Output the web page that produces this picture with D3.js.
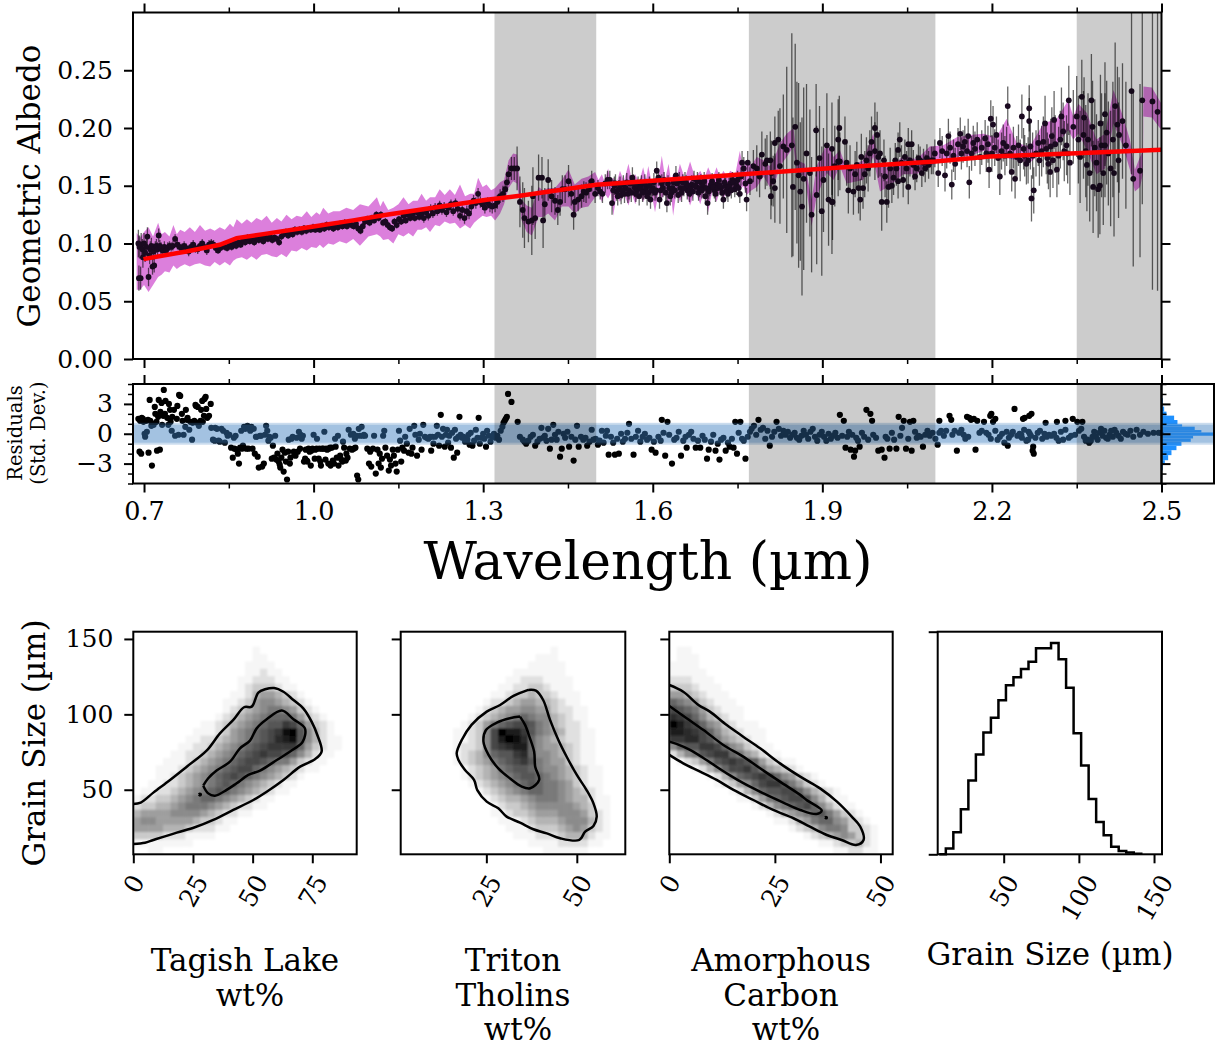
<!DOCTYPE html>
<html>
<head>
<meta charset="utf-8">
<style>
  body { margin: 0; background: #fff; }
  text { font-family: "DejaVu Serif", serif; fill: #000; }
  .tick line { stroke: #000; }
  .domain { display: none; }
</style>
</head>
<body>
<script src="https://d3js.org/d3.v7.min.js"></script>
<script>
// spectrum points: [wavelength nm, albedo x1000, error x1000]
const specVisible = [[690,100,12],[691,70,11],[692,97,10],[694,70,10],[695,99,10],[697,95,9],[698,88,9],[700,100,9],[702,92,8],[704,97,8],[706,106,8],[708,71,8],[710,90,8],[711,95,7],[713,98,7],[715,80,7],[717,93,7],[718,81,6],[720,96,6],[722,98,6],[724,95,6],[726,107,6],[728,98,5],[730,96,5],[733,94,5],[736,97,5],[739,94,5],[742,96,5],[745,98,4],[748,97,4],[751,98,4],[755,104,4],[759,99,4],[763,97,4],[767,96,4],[771,98,4],[775,96,4],[779,93,4],[783,97,4],[787,99,4],[791,96,4],[795,95,4],[799,98,4],[803,100,4],[807,97,4],[811,94,4],[815,99,4],[819,100,4],[823,99,4],[827,96,4],[831,94,3],
[835,96,3],[839,98,3],[843,97,3],[847,96,3],[851,99,3],[855,97,3],[859,100,3],[863,98,3],[867,101,3],[871,99,3],[875,103,3],[879,101,3],[883,105,3],[887,102,3],[891,104,3],[895,101,3],[899,105,3],[903,103,3],[907,106,3],[911,102,3],[915,105,3],[919,104,3],[923,106,3],[927,103,3],[931,105,3],[935,104,3],[939,101,3],[943,106,3],[947,108,3],[951,110,3],[955,107,3],[959,110,3],[963,108,3],[967,112,3],[971,110,3],[975,112,3],[979,110,3],[983,113,3],[987,111,3],[991,113,3],[995,112,3],[999,114,3]];
const specNear = [[1003,112,3],[1007,113,3],[1011,112,3],[1015,115,3],[1019,113,3],[1023,116,3],[1027,114,3],[1031,115,3],[1035,113,3],[1039,116,3],[1043,114,3],[1047,117,3],[1051,115,3],[1055,118,3],[1059,115,3],[1063,118,3],[1067,116,3],[1071,115,3],[1075,117,3],[1079,113,3],[1083,111,3],[1087,115,3],[1091,119,3],[1095,121,3],[1099,118,3],[1103,122,3],[1107,120,3],[1111,125,3],[1115,122,3],[1119,125,3],[1123,118,3],[1127,119,3],[1131,116,3],[1135,114,3],[1139,113,3],[1143,119,3],[1147,116,3],[1151,121,3],[1155,119,3],[1159,124,3],[1163,120,3],[1167,125,3],[1171,122,3],[1175,126,3],[1179,122,3],[1183,127,3],[1187,123,3],[1191,126,4],[1195,122,4],[1199,127,4],[1203,124,4],[1207,130,4],[1211,126,4],[1215,131,4],[1219,128,4],[1223,133,4],[1227,129,4],[1231,132,4],[1235,127,4],[1239,131,4],[1243,134,4],[1247,128,4],[1251,135,4],[1255,130,4],[1259,124,4],[1263,129,4],[1267,122,5],[1271,128,5],[1275,126,5],[1279,132,5],[1283,137,5],[1287,135,5],[1291,143,5],[1295,136,5],[1299,134,5]];
const specBand1 = [[1303,131,5],[1308,135,5],[1312,133,6],[1316,132,6],[1321,133,6],[1325,136,6],[1330,141,6],[1335,143,7],[1339,147,7],[1342,153,8],[1345,160,8],[1350,165,10],[1355,165,10],[1360,165,19],[1365,136,22],[1370,129,24],[1373,122,26],[1380,119,18],[1386,120,30],[1388,141,25],[1392,122,18],[1398,157,20],[1404,157,18],[1406,120,24],[1409,134,14],[1415,155,18],[1421,141,14],[1427,137,12],[1432,129,13],[1436,136,12],[1440,147,12],[1445,147,12],[1451,154,14],[1456,143,10],[1460,125,13],[1462,136,11],[1468,138,10],[1474,141,10],[1478,145,9],[1482,144,9],[1487,147,8],[1492,154,9],[1498,143,8],[1503,148,7],[1507,145,7],[1511,143,8],[1516,152,8],[1520,155,8],[1524,155,8]];
const specMid = [[1528,135,10],[1532,150,8],[1536,145,8],[1540,147,8],[1544,142,8],[1548,151,8],[1552,148,7],[1556,143,8],[1560,152,7],[1564,157,9],[1568,148,8],[1572,146,7],[1576,141,8],[1580,151,8],[1584,145,7],[1588,148,8],[1592,144,7],[1596,138,8],[1600,148,7],[1604,144,7],[1607,163,8],[1610,157,7],[1612,138,8],[1616,152,8],[1620,155,7],[1625,135,8],[1629,148,7],[1633,144,8],[1637,153,7],[1641,159,8],[1645,142,7],[1649,148,7],[1653,153,7],[1657,155,7],[1661,146,8],[1665,143,7],[1669,151,8],[1673,156,7],[1677,149,7],[1681,144,7],[1685,153,7],[1689,150,7],[1693,141,7],[1697,135,10],[1701,148,7],[1705,154,7],[1709,146,7],[1713,151,7],[1717,155,7],[1721,148,7],[1725,138,8],[1729,150,7],[1733,143,7],[1737,152,7],[1741,155,7],[1745,147,7],[1750,155,8],[1754,143,8],[1758,170,10],[1761,165,10],[1764,152,8],[1766,138,10],[1768,170,10],
[1530,146,9],[1534,152,8],[1538,141,8],[1542,150,8],[1546,146,7],[1550,143,8],[1554,153,8],[1558,146,8],[1562,144,8],[1566,152,8],[1570,143,7],[1574,150,8],[1578,148,8],[1582,144,8],[1586,152,8],[1590,141,8],[1594,150,8],[1598,146,8],[1602,153,8],[1606,146,7],[1614,146,8],[1618,148,8],[1623,144,8],[1627,152,7],[1631,141,8],[1635,148,8],[1639,146,7],[1643,152,8],[1647,155,7],[1651,144,8],[1655,148,7],[1659,152,7],[1663,150,8],[1667,147,7],[1671,145,8],[1675,150,7],[1679,154,8],[1683,148,8],[1687,146,7],[1691,154,8],[1695,148,8],[1699,145,7],[1703,151,7],[1707,149,8],[1711,143,7],[1715,148,7],[1719,150,8],[1723,144,7],[1727,153,7],[1731,146,7],[1735,149,8],[1739,146,7],[1743,153,8],[1748,150,8],[1752,148,8],[1756,158,8]];
const specBand2 = [[1772,154,12],[1778,167,14],[1784,165,20],[1789,158,18],[1793,177,20],[1799,169,22],[1802,172,22],[1808,172,25],[1809,141,20],[1810,161,28],[1813,154,22],[1816,148,30],[1816,187,23],[1822,190,25],[1825,167,50],[1831,184,45],[1837,181,72],[1846,185,97],[1848,149,60],[1852,201,72],[1855,170,70],[1858,159,80],[1861,145,60],[1864,132,77],[1867,156,79],[1872,178,60],[1878,161,55],[1881,125,50],[1889,198,40],[1890,142,60],[1895,174,45],[1899,128,56],[1902,155,45],[1908,185,45],[1911,138,40],[1917,182,40],[1917,136,45],[1922,167,35],[1928,190,35],[1930,200,28],[1928,171,30],[1918,136,33],[1931,171,25],[1940,188,22],[1946,146,20],[1955,145,20],[1964,148,22],[1967,138,18],[1972,148,18],[1987,188,22],[1993,200,22],[1997,194,20],[1993,180,25],[2002,178,20],[2009,172,18],[2005,136,25],[2014,136,18],[2017,149,18],[2026,157,15],[2034,154,15],[2034,181,15],[2037,190,15],[2043,155,15],[2052,149,15],[2052,186,14],[2058,186,12],[2064,158,12],[2070,174,12],[2076,161,12],[2085,174,12],[2093,172,12],
[1943,170,20],[1949,165,20],[1958,160,20],[1961,168,20],[1969,175,20],[1975,160,20],[1978,172,20],[1981,165,20],[1984,178,20],[1999,175,18],[2011,158,18],[2020,165,18],[2023,150,15],[2029,172,15],[2031,165,15],[2040,170,15],[2046,175,15],[2049,165,15],[2055,172,14],[2061,168,13],[2067,165,12],[2073,172,12],[2079,170,12],[2082,165,12],[2088,168,12],[2096,172,12],[2099,178,12]];
const specFar = [[2105,161,12],[2108,187,13],[2117,159,14],[2123,193,15],[2129,151,13],[2135,169,14],[2144,195,14],[2149,184,14],[2158,193,15],[2160,153,14],[2167,187,15],[2179,175,15],[2188,191,16],[2195,164,16],[2198,208,16],[2202,203,16],[2208,194,16],[2214,158,16],[2220,187,16],[2228,219,17],[2235,162,17],[2241,156,17],[2253,210,19],[2261,169,18],[2266,217,20],[2266,206,20],[2270,139,20],[2274,146,20],[2282,187,20],[2291,188,22],[2294,204,24],[2300,169,22],[2303,162,22],[2306,193,25],[2310,207,25],[2315,164,24],[2323,210,25],[2326,197,25],[2332,185,26],[2336,224,30],
[2112,180,13],[2120,178,13],[2126,183,14],[2132,176,14],[2140,186,14],[2146,178,14],[2152,188,14],[2156,180,14],[2164,178,15],[2170,182,15],[2174,190,15],[2182,183,15],[2190,178,16],[2193,186,16],[2200,178,16],[2205,183,16],[2211,174,16],[2217,180,16],[2223,176,17],[2226,184,17],[2232,178,17],[2238,183,18],[2244,175,18],[2247,185,18],[2250,172,18],[2256,182,18],[2258,176,18],[2264,172,20],[2268,184,20],[2272,176,20],[2278,178,20],[2284,172,22],[2288,180,22],[2296,182,22],[2298,174,22],[2304,184,24],[2308,172,24],[2312,186,25],[2318,176,25],[2321,190,25],[2328,180,26],[2334,178,26],[2338,170,28]];
const specBand3 = [[2344,201,32],[2350,210,35],[2359,227,32],[2363,209,35],[2362,194,38],[2368,168,40],[2373,161,42],[2376,224,40],[2378,201,40],[2379,149,40],[2388,147,42],[2391,150,42],[2392,204,42],[2397,161,45],[2400,212,45],[2400,185,45],[2403,196,45],[2416,161,55],[2418,219,55],[2422,203,50],[2424,172,50],[2425,194,50],[2431,206,50],[2437,185,55],[2447,232,72],[2450,156,76],[2462,163,75],[2466,224,90],[2484,223,163],[2493,214,155],
[2353,190,38],[2356,175,40],[2366,180,40],[2370,190,40],[2382,183,42],[2385,170,42],[2394,185,45],[2406,178,45],[2410,165,50],[2414,190,50]];

// purple spread: [wavelength nm, low x1000, high x1000]
const spreadShort = [[687,60,109],[693,60,105],[700,64,110],[708,58,114],[716,64,106],[725,71,118],[731,73,108],[737,76,110],[745,75,106],[752,81,116],[758,78,108],[764,80,112],[772,82,110],[781,80,114],[790,82,110],[799,83,116],[808,81,111],[817,80,113],[825,84,111],[834,81,114],[843,84,112],[852,81,117],[858,85,114],[864,87,121],[873,88,117],[882,86,121],[890,89,118],[899,86,122],[908,90,120],[917,91,124],[926,89,118],[935,88,122],[943,91,119],[952,88,125],[961,94,121],[970,93,124],[979,96,123],[988,94,128],[996,97,123],[1005,96,127],[1011,99,125],[1017,96,131],[1026,100,126],[1035,99,128],[1046,102,128],[1058,100,131],[1070,104,129],[1082,98,134],[1097,106,132],[1112,108,140],[1118,106,132],[1123,103,137],[1132,104,129],[1141,100,131],[1150,108,134],[1159,106,140],[1168,109,134],[1176,106,137],[1184,112,137],[1191,112,143],[1199,114,137],[1206,110,140],[1215,116,140],[1223,115,147],[1232,119,142],[1241,117,147],[1250,118,142],[1259,113,151],[1268,116,141],[1277,113,143],[1284,118,143],[1291,121,157],[1299,124,149],[1306,123,151],[1314,124,146],[1321,120,148],[1330,126,153],[1337,134,155],[1345,148,172]];
const spreadMid = [[1353,154,178],[1360,152,177],[1368,120,138],[1377,110,133],[1386,107,131],[1398,123,149],[1406,123,146],[1415,126,148],[1427,120,148],[1439,132,155],[1451,132,164],[1462,126,151],[1474,131,156],[1486,132,158],[1498,140,162],[1504,143,155],[1510,136,160],[1515,143,153],[1521,139,165],[1526,144,152],[1530,124,157],[1536,142,152],[1542,136,163],[1549,143,154],[1557,133,169],[1563,143,155],[1569,134,160],[1576,144,153],[1583,136,166],[1588,143,155],[1592,136,167],[1598,143,153],[1604,127,157],[1610,144,156],[1616,139,176],[1622,144,156],[1628,132,169],[1632,145,155],[1636,124,160],[1642,145,156],[1648,136,169],[1657,146,156],[1666,133,171],[1675,146,157],[1684,134,163],[1691,146,156],[1698,127,166],[1706,147,157],[1713,136,166],[1719,147,157],[1725,137,163],[1731,148,158],[1737,142,163],[1746,149,160],[1754,146,180],[1760,150,165],[1766,142,171],[1775,146,168],[1784,149,175],[1796,158,172],[1807,149,167],[1816,152,175],[1825,167,187],[1837,175,195],[1849,184,200],[1855,161,172],[1869,158,169],[1881,115,138],[1890,141,167],[1908,161,187],[1920,155,175],[1931,167,181]];
const spreadLong = [[1943,152,165],[1972,155,172],[1990,175,195],[2002,145,168],[2020,150,165],[2043,160,176],[2067,160,173],[2090,167,184],[2114,172,185],[2138,175,192],[2161,176,194],[2185,180,195],[2208,178,192],[2226,174,208],[2244,172,187],[2267,170,184],[2291,180,204],[2315,186,208],[2335,198,224],[2344,190,210],[2353,195,221],[2368,181,213],[2385,160,190],[2400,165,195],[2415,204,233],[2432,184,210],[2444,164,190],[2453,145,164],[2462,149,175],[2467,160,180],[2468,210,236],[2483,209,235],[2500,198,221]];

// best fit model: [wavelength nm, albedo x1000]
const modelFit = [[699,86.5],[775,93.1],[834,98.9],[864,104.7],[911,108.1],[1000,114.8],[1070,120],[1129,124.9],[1247,133.5],[1306,137.8],[1365,141.3],[1500,150.8],[1600,154.3],[1748,159.5],[1931,165.8],[2100,171],[2196,175.3],[2350,178.2],[2500,181.1]];

const grayBands = [[1.32,1.5],[1.77,2.1],[2.35,2.5]];
const majorWave = [0.7,1.0,1.3,1.6,1.9,2.2,2.5];
const minorWave = [0.85,1.15,1.45,1.75,2.05,2.35];
const albedoTicks = [0,0.05,0.1,0.15,0.2,0.25];

// residuals: [wavelength nm, residual x10]
const residHigh = [[690,15],[692,-18],[693,13],[695,-20],[696,16],[698,15],[699,12],[701,0],[702,-3],[704,13],[705,2],[707,14],[708,-19],[710,34],[711,13],[713,8],[714,-32],[716,10],[717,9],[719,27],[720,20],[722,12],[723,-17],[725,17],[726,34],[728,-16],[729,22],[731,31],[732,9],[734,18],[735,44],[737,20],[738,33],[741,16],[743,9],[744,30],[746,24],[747,12],[749,3],[750,17],[753,24],[755,-2],[758,15],[759,28],[761,-1],[762,39],[764,38],[767,20],[768,13],[770,-1],[773,7],[774,24],[776,14],[777,16],[780,4],[782,12],[785,-6],[786,11],[789,13],[791,29],[792,28],[794,11],[795,27],[797,8],[800,13],[801,24],[803,33],[804,12],[806,18],[807,35],[809,37],[810,25],[812,16],[815,18],[818,30],[819,6],[822,-6],[825,-7]];
const residLow = [[826,6],[829,5],[832,-7],[834,-8],[837,5],[840,3],[843,-9],[846,1],[848,-2],[851,-1],[854,-14],[857,-24],[859,-4],[860,-15],[862,-2],[864,-16],[866,-20],[868,-30],[870,-14],[872,3],[873,-15],[875,-12],[877,7],[879,5],[881,-15],[883,8],[885,-15],[886,5],[888,3],[890,7],[892,-15],[894,5],[896,-20],[898,-3],[899,-3],[901,-23],[903,-34],[905,-2],[907,-2],[909,-33],[912,-30],[914,-1],[916,8],[918,3],[920,-7],[922,-3],[924,-4],[926,-25],[928,-12],[930,-24],[932,-2],[934,-26],[936,-20],[938,-28],[940,-31],[941,-34],[943,-24],[945,-16],[947,-38],[949,-19],[951,-28],[953,-46],[955,-18],[956,-6],[958,-30],[959,-24],[961,-5],[963,-3],[965,-18],[966,-21],[968,-22],[970,-4],[972,-18],[974,2],[976,-15],[977,-1],[979,-5],[981,-2],[983,-28],[985,-25],[986,-16],[988,-27],[989,-28],[991,-15],[993,-18],[995,-32],[996,-17],[998,-15],[1000,-1],[1002,-25],[1003,-16],[1005,-15],[1006,-5],[1009,-25],[1010,-15],[1012,-28],[1013,-32],[1015,-15],[1017,-15],[1019,2],[1021,-26],[1022,-15],[1024,-16],[1026,-30],[1027,-15],[1029,-14],[1030,-32],[1032,-14],[1034,-27],[1036,-30],[1038,-5],[1039,-13],[1041,-24],[1043,-2],[1044,-32],[1047,-22],[1049,-26],[1051,-28],[1052,-8],[1054,-14],[1057,-27],[1058,-20],[1060,-24],[1062,4],[1064,-15],[1066,-1],[1068,-16],[1070,0],[1071,-15],[1073,-5],[1074,-14],[1076,-2],[1077,-42],[1079,-46],[1080,5],[1082,-2],[1085,7],[1087,-2],[1089,-1],[1091,-2],[1095,-15],[1098,-30],[1100,-18],[1102,-33],[1105,-15],[1107,-2],[1110,-40],[1113,-16],[1115,-30],[1117,-20],[1119,-34],[1121,-25],[1123,-2],[1125,3],[1127,-14],[1130,-22],[1133,-37],[1135,-26],[1137,-32],[1140,-16],[1142,-22],[1145,-30],[1147,-38],[1149,-16],[1151,3],[1153,-7],[1155,-28],[1157,-14],[1160,-17],[1162,-3],[1165,-10],[1168,-19],[1170,5],[1173,-20],[1175,-14],[1178,8],[1180,-1],[1183,-22],[1186,-6],[1188,0],[1191,-16],[1194,9],[1197,-3],[1200,-4],[1203,-5],[1206,-3],[1208,-17],[1210,-3],[1212,-10],[1215,-3],[1218,8],[1220,-1],[1222,-12],[1225,19],[1227,-3],[1229,5],[1232,-13],[1234,-1],[1236,4],[1238,-9],[1240,-2],[1243,-14],[1245,1],[1248,-24],[1250,4],[1252,-5],[1254,-19],[1256,-3],[1258,17],[1260,-1],[1263,-4],[1265,-3],[1268,-8],[1270,-5],[1272,-6],[1274,-1],[1276,-11],[1278,1],[1281,-12],[1284,-7],[1287,4],[1290,-4],[1292,16],[1294,-10],[1297,-4],[1300,0],[1302,-5],[1305,-13],[1307,3]];
const residMid = [[1310,-2],[1313,-8],[1316,-3],[1319,0],[1322,-4],[1325,-2],[1328,-6],[1331,3],[1334,7],[1336,11],[1338,13],[1340,15],[1342,17],[1344,40],[1350,32],[1361,12],[1365,-3],[1370,-6],[1373,-8],[1376,-10],[1380,-7],[1384,-3],[1388,-1],[1392,-12],[1396,-8],[1400,-5],[1403,6],[1406,-4],[1409,-2],[1412,-7],[1415,5],[1418,-15],[1421,-6],[1424,9],[1427,-1],[1430,-6],[1433,2],[1436,-23],[1439,-15],[1442,0],[1445,-4],[1449,2],[1452,-13],[1456,-3],[1460,-27],[1463,-6],[1466,8],[1469,-13],[1473,-3],[1477,-6],[1481,-4],[1484,-12],[1488,-8],[1492,4],[1495,-6],[1499,-5],[1503,-11],[1506,-7],[1510,3],[1513,-9],[1517,-2],[1519,3],[1522,-21],[1526,-3],[1530,-9],[1533,-21],[1537,-5],[1540,-20],[1544,0],[1547,-8],[1551,-5],[1555,1],[1558,10],[1562,-5],[1566,-21],[1570,-3],[1574,3],[1578,-8],[1582,-3],[1586,0],[1590,-6],[1594,-4],[1598,-16],[1602,-8],[1605,-19],[1610,-3],[1614,-7],[1616,14],[1619,1],[1622,-22],[1626,12],[1629,-1],[1634,-30],[1638,-6],[1642,-4],[1646,2],[1650,-22],[1654,-7],[1658,-3],[1660,-14],[1664,-1],[1668,2],[1672,-5],[1676,-14],[1680,-7],[1684,-14],[1688,-2],[1692,-6],[1696,-25],[1699,-16],[1703,-8],[1707,-1],[1711,-17],[1715,-10],[1718,-26],[1721,-6],[1725,-4],[1729,-17],[1733,-9],[1736,-13],[1740,-5],[1743,-14],[1746,12],[1749,-20],[1752,1],[1755,12],[1758,-5],[1761,-7],[1764,-25]];
const residEnd = [[1768,-3],[1772,2],[1775,5],[1779,8],[1783,-1],[1787,14],[1791,4],[1795,6],[1799,-5],[1803,3],[1807,-12],[1811,-3],[1815,2],[1819,12],[1823,5],[1827,-2],[1831,3],[1835,-1],[1839,2],[1843,-4],[1847,-1],[1851,1],[1855,-4],[1859,-6],[1863,-2],[1867,3],[1871,-1],[1875,-5],[1879,2],[1883,5],[1887,-3],[1891,-7],[1895,-1],[1899,2],[1903,-3],[1907,-7],[1911,0],[1915,-5],[1919,-2],[1923,1],[1927,-4],[1931,19],[1935,-2],[1938,13],[1941,-14],[1944,-3],[1947,2],[1950,-16],[1953,-1],[1956,-23],[1958,-17],[1960,-4],[1963,-7],[1966,-13],[1970,1],[1974,-3],[1978,24],[1981,-6],[1985,20],[1988,13],[1990,-1],[1995,-4],[1999,-17],[2005,-16],[2010,-24],[2012,-3],[2015,-5],[2019,-15],[2023,1],[2027,-6],[2031,-15],[2035,17],[2038,-2],[2041,6],[2044,13],[2048,-15],[2052,-5],[2055,12],[2058,-17],[2061,13],[2064,2],[2067,-4],[2070,-2],[2074,-3],[2078,-13],[2082,-1],[2086,3],[2090,-2],[2095,1],[2100,-5],[2104,-11],[2107,1],[2110,3],[2107,13],[2115,-2],[2119,3],[2125,18],[2128,14],[2130,-1],[2134,3],[2138,-17],[2142,1],[2146,4],[2150,-1],[2153,-5],[2156,17],[2160,16],[2163,14],[2158,-3],[2168,15],[2171,-16],[2174,13],[2178,1],[2182,3],[2186,12],[2190,1],[2194,-1],[2198,-5],[2202,12],[2206,3],[2210,-6],[2214,-3],[2218,0],[2222,-9],[2226,2],[2230,-4],[2197,18],[2199,20],[2206,15],[2228,-12],[2234,-1],[2237,2],[2240,25],[2245,-2],[2249,0],[2253,-4],[2257,4],[2261,-7],[2265,2],[2269,-2],[2273,-13],[2255,15],[2267,0],[2277,-4],[2281,1],[2285,3],[2252,-1],[2258,16],[2266,18],[2270,20],[2264,-6],[2272,-17],[2274,-20],[2289,-5],[2293,0],[2297,-3],[2301,-1],[2305,-2],[2295,11],[2310,0],[2314,-4],[2318,-7],[2322,2],[2326,-6],[2330,4],[2315,12],[2330,13],[2336,-4],[2340,-2],[2343,15],[2347,-1],[2351,12],[2354,3],[2358,5],[2360,12],[2363,-3],[2366,-7],[2369,-6],[2372,-9],[2375,-7],[2378,-3],[2381,2],[2384,-3],[2387,-6],[2390,1],[2393,5],[2396,-2],[2399,3],[2402,-4],[2405,-5],[2408,-1],[2411,3],[2414,-3],[2417,4],[2420,1],[2424,-2],[2428,-5],[2432,2],[2436,0],[2440,-1],[2445,3],[2450,-3],[2456,4],[2462,-1],[2468,2],[2476,0],[2486,1],[2495,1],[2499,1]];

// residual histogram on the side
const residHistEdges = [3.57,2.73,2.22,1.82,1.38,0.94,0.71,0.37,0.13,-0.2,-0.47,-0.81,-1.21,-1.65,-2.15,-2.66,-3.1,-3.67];
const residHistCounts = [4,8,15,38,48,62,100,120,155,95,88,60,45,30,20,10,4];

// 2d posteriors, one hex digit per cell (darkness), top row first
const gridTagish = ["00000 00000 00000 00000 00000 00000","00000 00000 00000 00000 00000 00000","00000 00000 00000 01000 00000 00000","00000 00000 00000 01100 00000 00000","00000 00000 00000 11110 00000 00000","00000 00000 00000 11211 00000 00000","00000 00000 00001 12221 10000 00000","00000 00000 00001 23332 11000 00000","00000 00000 00011 24554 32100 00000","00000 00000 00112 35665 43210 00000","00000 00000 00123 45677 65321 00000","00000 00000 01234 56788 87532 10000","00000 00001 12345 67899 ba853 21000","00000 00011 12356 789ab ef964 21000","00000 00112 23456 789ac de964 21100","00000 01122 34567 89abb bb853 21100","00000 11223 45678 9abaa 98642 11000","00001 11234 56789 aa987 75321 10000","00011 12345 6789a a8765 43211 00000","00011 23456 789a9 87654 32100 00000","00112 23456 78987 65432 11000 00000","01122 34567 89876 54321 10000 00000","12233 45678 87654 32110 00000 00000","23344 56777 65432 21100 00000 00000","45555 66665 43221 10000 00000 00000","56655 55543 32110 00000 00000 00000","55554 44322 21100 00000 00000 00000","33332 22111 10000 00000 00000 00000","11111 11100 00000 00000 00000 00000","00110 00000 00000 00000 00000 00000"];
const gridTholins = ["00000 00000 00000 00000 00000 00000","00000 00000 00000 00000 00000 00000","00000 00000 00000 00000 10000 00000","00000 00000 00000 00011 10000 00000","00000 00000 00000 00111 11000 00000","00000 00000 00000 11111 11000 00000","00000 00000 00001 12221 11100 00000","00000 00000 00011 22332 11100 00000","00000 00000 00112 33433 21110 00000","00000 00000 01223 45544 32110 00000","00000 00000 12345 56655 32211 00000","00000 00001 23456 78766 43211 00000","00000 00012 35789 aa976 43221 00000","00000 00112 36afd db976 54221 10000","00000 00112 36adf ec865 43221 10000","00000 00122 36abc dd865 54321 10000","00000 00123 46899 bc866 54321 10000","00000 00123 45789 ab976 55321 10000","00000 00012 34578 99876 65432 11000","00000 00012 34567 89987 65432 11000","00000 00001 23456 78987 76532 11000","00000 00000 12345 67887 76543 21000","00000 00000 01234 45677 76544 21100","00000 00000 00123 34566 66654 31100","00000 00000 00112 33455 56665 32100","00000 00000 00011 12344 45666 42100","00000 00000 00001 11233 34565 32100","00000 00000 00000 11122 23444 21100","00000 00000 00000 00111 12222 11000","00000 00000 00000 00001 11111 00000"];
const gridCarbon = ["00000 00000 00000 00000 00000 00000","00000 00000 00000 00000 00000 00000","01100 00000 00000 00000 00000 00000","01110 00000 00000 00000 00000 00000","11110 00000 00000 00000 00000 00000","11111 00000 00000 00000 00000 00000","22211 10000 00000 00000 00000 00000","33321 11000 00000 00000 00000 00000","55432 11100 00000 00000 00000 00000","87653 21110 00000 00000 00000 00000","a9875 32111 00000 00000 00000 00000","cba86 43211 00000 00000 00000 00000","fdba8 65321 11000 00000 00000 00000","ddcba 86432 11100 00000 00000 00000","bbcca 97543 21100 00000 00000 00000","6899b ba865 32110 00000 00000 00000","24679 abb87 54211 00000 00000 00000","01235 79aba 98532 11000 00000 00000","00012 468aa b9754 32100 00000 00000","00000 12468 9aba8 65321 00000 00000","00000 01235 68abb 97532 10000 00000","00000 00012 46899 aa864 32100 00000","00000 00001 13578 9aa96 42110 00000","00000 00000 01246 789a8 64211 00000","00000 00000 00012 45678 97532 10000","00000 00000 00001 12457 88653 21000","00000 00000 00000 01234 67763 32100","00000 00000 00000 00012 34565 32100","00000 00000 00000 00000 11233 42100","00000 00000 00000 00000 00112 21100"];

// contours in data units: [wt%, grain size]
const tagishOuter = [[0,40.6],[3.1,41.5],[8.4,48.1],[15.4,56.5],[22.4,65.3],[30.7,75.9],[36.3,87.4],[41.9,96.3],[46.4,104.7],[49.6,105.1],[52.4,114.4],[55.2,116.6],[59,117.5],[62.9,115],[67.1,109.5],[71.2,104],[74.7,95.2],[77.1,86.3],[78.9,75.3],[76.1,70.2],[69.9,65.3],[62.9,56.5],[55.9,48.7],[50.3,43.2],[41.9,36.6],[33.5,30],[25.8,25.1],[18.2,21.6],[8.4,16.7],[4.9,14.9],[0,14.1]];
const tagishInner = [[29.3,52.7],[31.4,57.6],[34.9,62.7],[40.5,68.6],[44.7,77.5],[48.9,82.6],[51.7,90.7],[55.9,96.7],[62.2,102.5],[67.1,96.7],[71.9,90.7],[71,81.9],[67.1,76.8],[60.1,69.7],[53.1,62.7],[48.2,59.8],[43.3,54.3],[39.1,49.9],[34.2,46.1],[31.4,47.6],[29.3,52.7]];
const tagishSpot = [[27.5,46.8],[27.9,47.4],[28.3,46.8],[27.9,46.2],[27.5,46.8]];
const tholinsOuter = [[36.6,116.2],[38.7,115.7],[40.7,109.5],[42.6,96.3],[44.9,83],[47.2,71.9],[50,59.8],[52.7,49.8],[54.6,41],[55.5,32.2],[54.6,26],[52.3,22.2],[50.7,16.7],[45.4,17.8],[41.7,21.1],[38,23.8],[34.3,28.2],[30.6,32.2],[28.3,37.7],[25.1,42.1],[22.5,49.8],[21.6,56.5],[19.1,63.1],[17.3,69.7],[16.8,74.2],[18.2,83],[20.9,93],[25.1,101.8],[28.8,106.2],[32.5,112.2],[36.6,116.2]];
const tholinsInner = [[34.3,98.5],[35.7,93],[36.9,85.2],[38.2,75.3],[38.5,65.3],[39.6,56.5],[37.1,51],[34.8,52.1],[31.5,57.6],[28.3,64.2],[25.6,73.1],[24.2,81.9],[24.9,89.6],[27.9,94.5],[31.5,97.4],[34.3,98.5]];
const carbonOuter = [[0,119.5],[3.3,115],[6.9,106.2],[9.6,101.8],[13.6,92.9],[17.5,85.2],[21.5,77.5],[26.2,67.5],[31,58.7],[35.7,50.9],[39.7,42.1],[43.2,32.2],[45.2,25.6],[46,16.7],[44.2,13.4],[40.8,16.7],[37.3,20],[33.3,25.5],[29.4,31.1],[24.6,36.6],[19.9,43.2],[15.2,49.9],[11.2,56.5],[7.3,62],[3.3,67.5],[0,73.1]];
const carbonInner = [[0,105.5],[4.1,97.4],[8.1,89.6],[12.8,79.7],[17.5,72],[21.5,64.2],[26.2,55.4],[31,46.6],[32.5,43.2],[36.1,36.2],[34.9,33.9],[31,36.6],[27,41.5],[22.3,47.6],[18.3,53.2],[13.6,60.9],[8.8,69.7],[4.9,76.4],[1.7,80.4],[0,81.9]];
const carbonSpot = [[36.9,31.5],[37.1,31.9],[37.3,31.5],[37.1,31.1],[36.9,31.5]];

// grain size marginal
const grainEdges = [11.5,16.5,21.5,26.5,31.5,36.5,41.5,46.5,51.5,56.5,61.5,66.5,71.5,76.5,81.5,86.5,91.5,96.5,101.5,106.5,111.5,116.5,121.5,126.5,131.5,136.5,141.5];
const grainCounts = [2.8,10.4,21.3,34.9,47.2,57.7,64.7,72.9,80.1,83.8,87.7,91.2,97.6,97.6,100,92.4,78.9,57.3,42,26.2,15.3,9,3.6,1.6,0.8,0.3,0];

const svg = d3.select("body").append("svg").attr("width", 1215).attr("height", 1047);
const defs = svg.append("defs");
defs.append("filter").attr("id", "soft").attr("x", "-5%").attr("y", "-5%").attr("width", "110%").attr("height", "110%")
  .append("feGaussianBlur").attr("stdDeviation", 0.9);

function clip(id, x0, y0, x1, y1) {
  defs.append("clipPath").attr("id", id).append("rect")
    .attr("x", x0).attr("y", y0).attr("width", x1 - x0).attr("height", y1 - y0);
  return `url(#${id})`;
}

function axis(gen, tx, ty, values, size, width, pad, fmt, fontSize) {
  const g = svg.append("g").attr("transform", `translate(${tx},${ty})`)
    .call(gen.tickValues(values).tickSize(size).tickPadding(pad).tickFormat(fmt || ""));
  g.selectAll(".tick line").attr("stroke-width", width);
  g.selectAll(".tick text").attr("font-size", fontSize || 25);
  return g;
}

function frame(x0, y0, x1, y1) {
  svg.append("rect").attr("x", x0).attr("y", y0).attr("width", x1 - x0).attr("height", y1 - y0)
    .attr("fill", "none").attr("stroke", "#000").attr("stroke-width", 2);
}

/////////////////////////
// top panel

const left = 133, right = 1161.5;
const x = d3.scaleLinear([0.6805, 2.5], [left, right]);
const y = d3.scaleLinear([0, 0.3], [359, 12.5]);
const yRes = d3.scaleLinear([-5, 5], [483.5, 384]);

const spectrum = [...specVisible, ...specNear, ...specBand1, ...specMid, ...specBand2, ...specFar, ...specBand3];
const spread = [...spreadShort, ...spreadMid, ...spreadLong];

const topPlot = svg.append("g").attr("clip-path", clip("topClip", left, 12.5, right, 359));

const spreadArea = d3.area().x(d => x(d[0] / 1000)).y0(d => y(d[1] / 1000)).y1(d => y(d[2] / 1000));
topPlot.append("path").attr("d", spreadArea(spread)).attr("fill", "#b900b9").attr("fill-opacity", 0.5);

topPlot.append("g").selectAll("line").data(spectrum).join("line")
  .attr("x1", d => x(d[0] / 1000)).attr("x2", d => x(d[0] / 1000))
  .attr("y1", d => y((d[1] - d[2]) / 1000)).attr("y2", d => y((d[1] + d[2]) / 1000))
  .attr("stroke", "#000").attr("stroke-opacity", 0.6).attr("stroke-width", 1.3);

topPlot.append("g").selectAll("circle").data(spectrum).join("circle")
  .attr("cx", d => x(d[0] / 1000)).attr("cy", d => y(d[1] / 1000)).attr("r", 2.9).attr("fill", "#1a0a20");

topPlot.append("g").selectAll("rect").data(grayBands).join("rect")
  .attr("x", d => x(d[0])).attr("width", d => x(d[1]) - x(d[0])).attr("y", 12.5).attr("height", 346.5)
  .attr("fill", "#000").attr("fill-opacity", 0.2);

const modelLine = d3.line().x(d => x(d[0] / 1000)).y(d => y(d[1] / 1000));
topPlot.append("path").attr("d", modelLine(modelFit)).attr("fill", "none").attr("stroke", "#ff0000").attr("stroke-width", 4.5);

frame(left, 12.5, right, 359);
axis(d3.axisBottom(x), 0, 359, majorWave, 9, 2, 0);
axis(d3.axisBottom(x), 0, 359, minorWave, 5, 1.5, 0);
axis(d3.axisTop(x), 0, 12.5, majorWave, 9, 2, 0);
axis(d3.axisTop(x), 0, 12.5, minorWave, 5, 1.5, 0);
axis(d3.axisLeft(y), left, 0, albedoTicks, 9, 2, 11, d3.format(".2f"));
axis(d3.axisRight(y), right, 0, albedoTicks, 9, 2, 0);

svg.append("text").attr("transform", "translate(40,186) rotate(-90)").attr("text-anchor", "middle")
  .attr("font-size", 31).text("Geometric Albedo");

/////////////////////////
// residual panel

const residuals = [...residHigh, ...residLow, ...residMid, ...residEnd];
const resPlot = svg.append("g").attr("clip-path", clip("resClip", left, 384, 1214, 483.5));

resPlot.append("g").selectAll("circle").data(residuals).join("circle")
  .attr("cx", d => x(d[0] / 1000)).attr("cy", d => yRes(d[1] / 10)).attr("r", 3.1).attr("fill", "#000");

const xHist = d3.scaleLinear([0, 158], [right, 1214]);
resPlot.append("g").selectAll("rect").data(residHistCounts).join("rect")
  .attr("x", right).attr("width", d => xHist(d) - right)
  .attr("y", (d, i) => yRes(residHistEdges[i]))
  .attr("height", (d, i) => yRes(residHistEdges[i + 1]) - yRes(residHistEdges[i]))
  .attr("fill", "#1e90ff");

// band is two stacked ranges, which gives the darker rim
[[-1.1, 1.1], [-0.9, 0.9]].forEach(b => {
  resPlot.append("rect").attr("x", left).attr("width", 1214 - left)
    .attr("y", yRes(b[1])).attr("height", yRes(b[0]) - yRes(b[1]))
    .attr("fill", "#3b7fc0").attr("fill-opacity", 0.27);
});

resPlot.append("g").selectAll("rect").data(grayBands).join("rect")
  .attr("x", d => x(d[0])).attr("width", d => x(d[1]) - x(d[0])).attr("y", 384).attr("height", 99.5)
  .attr("fill", "#000").attr("fill-opacity", 0.2);

frame(left, 384, right, 483.5);
frame(right, 384, 1214, 483.5);

const resMajor = [-3, 0, 3], resMinor = [-5, -4, -2, -1, 1, 2, 4, 5];
axis(d3.axisBottom(x), 0, 483.5, majorWave, 9, 2, 9, d3.format(".1f"), 25.5);
axis(d3.axisBottom(x), 0, 483.5, minorWave, 5, 1.5, 0);
axis(d3.axisTop(x), 0, 384, majorWave, 9, 2, 0);
axis(d3.axisTop(x), 0, 384, minorWave, 5, 1.5, 0);
axis(d3.axisLeft(yRes), left, 0, resMajor, 9, 2, 11, d3.format("d"));
axis(d3.axisLeft(yRes), left, 0, resMinor, 5, 1.5, 0);
axis(d3.axisRight(yRes), right, 0, resMajor, 9, 2, 0);
axis(d3.axisRight(yRes), right, 0, resMinor, 5, 1.5, 0);

svg.append("text").attr("transform", "translate(22,433) rotate(-90)").attr("text-anchor", "middle")
  .attr("font-size", 19.5).text("Residuals");
svg.append("text").attr("transform", "translate(45,433) rotate(-90)").attr("text-anchor", "middle")
  .attr("font-size", 19.5).text("(Std. Dev.)");

svg.append("text").attr("x", 648).attr("y", 579).attr("text-anchor", "middle")
  .attr("font-size", 52).text("Wavelength (µm)");

/////////////////////////
// corner plots

const cornerTop = 631.7, cornerBottom = 854.3;
const yGrain = d3.scaleLinear([7.2, 154.8], [cornerBottom, cornerTop]);
// darkness per hex level, faint tail then a steep ramp
const darkness = d3.scaleLinear([0, 1, 2, 5, 8, 10, 15], [0, 0.035, 0.12, 0.38, 0.6, 0.72, 1]);
const shade = v => d3.interpolateRgb("#ffffff", "#000000")(darkness(v));
const contourLine = d3.curveCatmullRom.alpha(0.5);

const corners = [
  {id: "tagish", x0: 133.3, x1: 356.7, dom: [0, 93.6], ticks: [0, 25, 50, 75], grid: gridTagish, lines: [tagishOuter, tagishInner, tagishSpot], labels: ["Tagish Lake", "wt%"], labelX: [245, 250]},
  {id: "tholins", x0: 400.7, x1: 625.3, dom: [1.33, 63.4], ticks: [25, 50], grid: gridTholins, lines: [tholinsOuter, tholinsInner], labels: ["Triton", "Tholins", "wt%"], labelX: [513, 513, 518]},
  {id: "carbon", x0: 669.3, x1: 892.7, dom: [0, 52.9], ticks: [0, 25, 50], grid: gridCarbon, lines: [carbonOuter, carbonInner, carbonSpot], labels: ["Amorphous", "Carbon", "wt%"], labelX: [781, 781, 786]}
];

function slantedTicks(g) {
  g.selectAll(".tick text").each(function() {
    const w = this.getComputedTextLength();
    const cy = 870 + (w * Math.sin(Math.PI / 3) + 14) / 2;
    d3.select(this).attr("y", 0).attr("dy", "0.35em").attr("text-anchor", "middle")
      .attr("transform", `translate(0,${cy - cornerBottom}) rotate(-60)`);
  });
}

corners.forEach(c => {
  const xs = d3.scaleLinear(c.dom, [c.x0, c.x1]);
  const col = d3.scaleBand(d3.range(30), [c.x0, c.x1]);
  const row = d3.scaleBand(d3.range(30), [cornerTop, cornerBottom]);
  const cells = [];
  c.grid.forEach((s, r) => {
    s.replace(/ /g, "").split("").forEach((ch, k) => cells.push({r, k, v: parseInt(ch, 16)}));
  });
  const plot = svg.append("g").attr("clip-path", clip(c.id + "Clip", c.x0, cornerTop, c.x1, cornerBottom));
  plot.append("g").attr("filter", "url(#soft)").selectAll("rect").data(cells).join("rect")
    .attr("x", d => col(d.k)).attr("y", d => row(d.r))
    .attr("width", col.bandwidth() + 0.5).attr("height", row.bandwidth() + 0.5)
    .attr("fill", d => shade(d.v));
  const line = d3.line().x(d => xs(d[0])).y(d => yGrain(d[1])).curve(contourLine);
  plot.append("g").selectAll("path").data(c.lines).join("path")
    .attr("d", line).attr("fill", "none").attr("stroke", "#000").attr("stroke-width", 2.5);

  frame(c.x0, cornerTop, c.x1, cornerBottom);
  axis(d3.axisBottom(xs), 0, cornerBottom, c.ticks, 9, 2, 0, d3.format("d")).call(slantedTicks);
  axis(d3.axisLeft(yGrain), c.x0, 0, [50, 100, 150], 9, 2, 11, c.id === "tagish" ? d3.format("d") : "");

  c.labels.forEach((t, i) => {
    svg.append("text").attr("x", c.labelX[i]).attr("y", 971 + i * 34.5).attr("text-anchor", "middle")
      .attr("font-size", 31).text(t);
  });
});

svg.append("text").attr("transform", "translate(45,743) rotate(-90)").attr("text-anchor", "middle")
  .attr("font-size", 31).text("Grain Size (µm)");

// marginal
const xGrain = d3.scaleLinear([6.1, 155.3], [937.7, 1162]);
const yCount = d3.scaleLinear([0, 105.4], [cornerBottom, cornerTop]);
const grainSteps = [[xGrain.domain()[0] + 1, 0], ...grainEdges.map((e, i) => [e, grainCounts[i]])];
const stepLine = d3.line().x(d => xGrain(d[0])).y(d => yCount(d[1])).curve(d3.curveStepAfter);
svg.append("path").attr("d", stepLine(grainSteps)).attr("fill", "none").attr("stroke", "#000").attr("stroke-width", 2.5);
frame(937.7, cornerTop, 1162, cornerBottom);
axis(d3.axisBottom(xGrain), 0, cornerBottom, [50, 100, 150], 9, 2, 0, d3.format("d")).call(slantedTicks);
axis(d3.axisLeft(yCount), 937.7, 0, [0, 105.4], 9, 2, 0);
svg.append("text").attr("x", 1050).attr("y", 965).attr("text-anchor", "middle")
  .attr("font-size", 31).text("Grain Size (µm)");
</script>
</body>
</html>
